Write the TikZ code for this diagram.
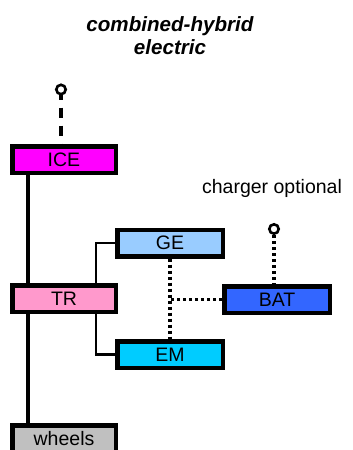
\documentclass[tikz,border=0pt]{standalone}
\usepackage{fontspec}
\setmainfont{Liberation Sans}
\usetikzlibrary{positioning}
\definecolor{iceC}{HTML}{FF00FF}
\definecolor{trC}{HTML}{FF99CC}
\definecolor{geC}{HTML}{99CCFF}
\definecolor{batC}{HTML}{3366FF}
\definecolor{emC}{HTML}{00CCFF}
\definecolor{whC}{HTML}{C0C0C0}
\begin{document}
\begin{tikzpicture}[x=1pt,y=1pt,every node/.style={font=\fontsize{19.5}{23}\selectfont},
  unit/.style={draw=black,line width=4.5pt,inner sep=0pt,minimum height=26.5pt},
  wide/.style={unit,minimum width=103.5pt},
  slim/.style={unit,minimum width=105.5pt},
  shaft/.style={line width=3.5pt},
  branch/.style={line width=2.4pt},
  wire/.style={line width=3.5pt,dash pattern=on 3.3pt off 2.7pt},
  plug/.style={draw=black,fill=white,line width=2.6pt}]
\useasboundingbox (0,0) rectangle (353,-450);
\clip (0,0) rectangle (353,-450);
\coordinate (iceplug) at (61,-89.5);
\coordinate (batplug) at (274,-229);
\node[align=center,font=\fontsize{20.6}{23}\selectfont\bfseries\itshape] (title) at (170,-35.5) {combined-hybrid\\electric};
\node (charger) at (272,-188) {charger optional};
\node[wide,fill=iceC] (ICE) at (64,-159.5) {ICE};
\node[wide,fill=trC] (TR) at (64,-298.5) {TR};
\node[slim,fill=geC] (GE) at (170,-243) {GE};
\node[slim,fill=batC] (BAT) at (277,-299.5) {BAT};
\node[slim,fill=emC] (EM) at (170,-354.5) {EM};
\node[wide,fill=whC] (wheels) at (64,-438.5) {wheels};
\draw[line width=3.5pt,dash pattern=on 10pt off 8pt] (iceplug) -- (iceplug |- ICE.north);
\draw[shaft] ([xshift=18pt]ICE.south west) -- ([xshift=18pt]TR.north west);
\draw[shaft] ([xshift=18pt]TR.south west) -- ([xshift=18pt]wheels.north west);
\draw[branch] ([xshift=-22pt]TR.north east) |- (GE.west);
\draw[branch] ([xshift=-22pt]TR.south east) |- (EM.west);
\draw[wire] (GE.south) -- (EM.north);
\draw[wire] (BAT.west) -- (BAT.west -| GE.south);
\draw[wire] (batplug) -- (batplug |- BAT.north);
\filldraw[plug] (iceplug) circle (4.7pt);
\filldraw[plug] (batplug) circle (4.7pt);
\end{tikzpicture}
\end{document}
